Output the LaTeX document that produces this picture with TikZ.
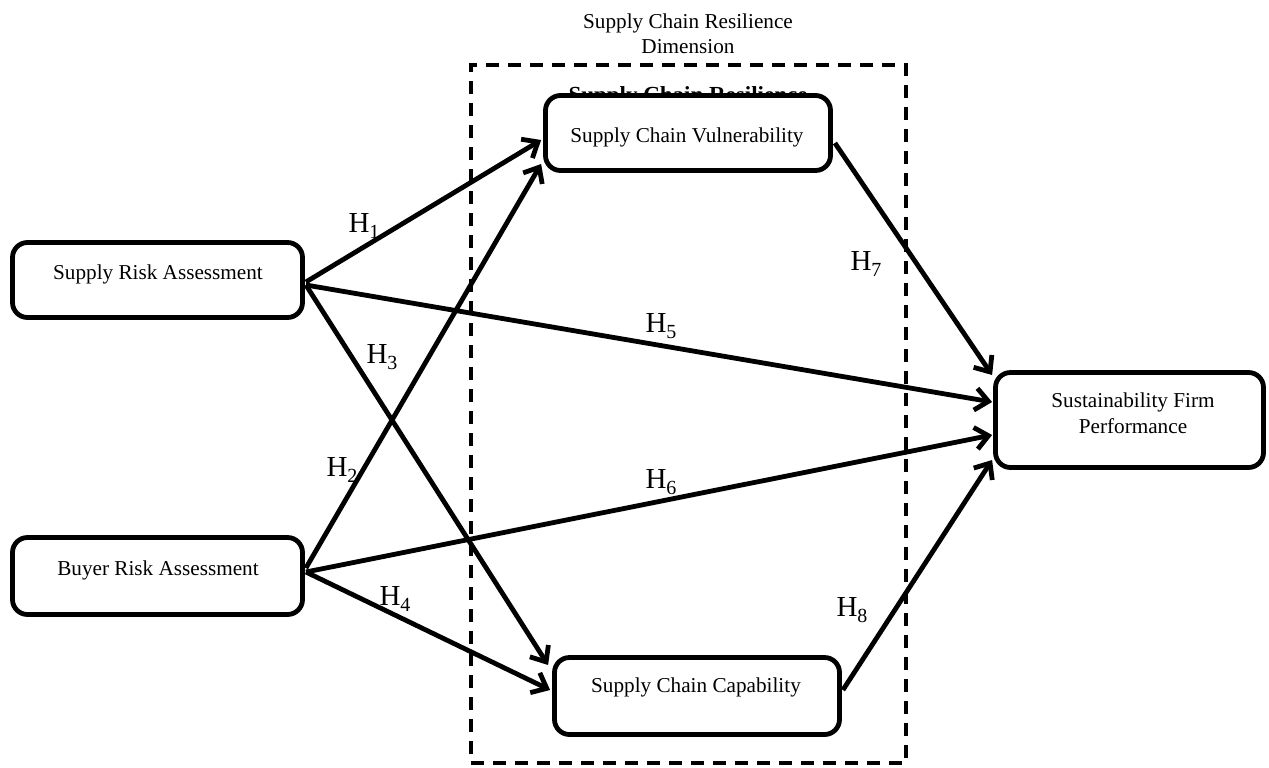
\documentclass[tikz,border=0pt]{standalone}
\usepackage{fontspec}
\setmainfont{Liberation Serif}
\usetikzlibrary{arrows.meta,calc}
\tikzset{
  box/.style={draw=black,line width=2.4pt,rounded corners=7.5pt,fill=white,inner sep=0pt},
  boxtext/.style={anchor=base,inner sep=0pt,font=\fontsize{10.6}{12.5}\selectfont,align=center},
  hyp/.style={line width=2.4pt,-{Straight Barb[length=6.5pt,width=11pt,line width=2.4pt]}},
  hlab/.style={inner sep=0pt,font=\fontsize{14.5}{15}\selectfont},
  dimbox/.style={draw=black,line width=2.2pt,dash pattern=on 6.5pt off 4.5pt,inner sep=0pt}
}
\newcommand{\hsub}[1]{H\raisebox{-0.22em}{\fontsize{10}{10}\selectfont #1}}
\begin{document}
\begin{tikzpicture}[x=0.5pt,y=-0.5pt]
\useasboundingbox (0,0) rectangle (1269,767);
% dimension frame
\node[dimbox,minimum width=217.5pt,minimum height=349pt] (dim) at (688.5,414) {};
\node[boxtext] (title) at (688,53) {Supply Chain Resilience\\Dimension};
\node[anchor=base,inner sep=0pt,font=\bfseries\fontsize{11.5}{12}\selectfont] (scrbold) at (688,102) {Supply Chain Resilience};
% boxes
\node[box,minimum width=145pt,minimum height=37.5pt] (sra) at (157.5,280) {};
\node[box,minimum width=145pt,minimum height=38.5pt] (bra) at (157.5,576) {};
\node[box,minimum width=142.5pt,minimum height=37.5pt] (scv) at (688,133) {};
\node[box,minimum width=142.5pt,minimum height=38.5pt] (scc) at (697,696) {};
\node[box,minimum width=134pt,minimum height=47.5pt] (sfp) at (1129.5,420) {};
\node[boxtext] (sra-t) at (158,279) {Supply Risk Assessment};
\node[boxtext] (bra-t) at (158,575) {Buyer Risk Assessment};
\node[boxtext] (scv-t) at (687,142) {Supply Chain Vulnerability};
\node[boxtext] (scc-t) at (696,692) {Supply Chain Capability};
\node[boxtext,font=\fontsize{10.6}{13}\selectfont] (sfp-t) at (1133,433) {Sustainability Firm\\Performance};
% connectors
\draw[hyp] ($(sra.east)+(1,2)$) -- ($(scv.west)+(-2,7)$);
\draw[hyp] ($(bra.east)+(1,-8)$) -- ($(scv.west)+(-2,31)$);
\draw[hyp] ($(sra.east)+(1,5)$) -- ($(scc.west)+(-4,-31)$);
\draw[hyp] ($(bra.east)+(1,-4)$) -- ($(scc.west)+(-2,-6)$);
\draw[hyp] ($(sra.east)+(1,5)$) -- ($(sfp.west)+(-1,-18)$);
\draw[hyp] ($(bra.east)+(1,-4)$) -- ($(sfp.west)+(-1,15)$);
\draw[hyp] ($(scv.east)+(2,10)$) -- ($(sfp.west)+(-1,-45)$);
\draw[hyp] ($(scc.east)+(1,-6)$) -- ($(sfp.west)+(-1,40)$);
% labels
\node[hlab] (h1) at (364,226) {\hsub{1}};
\node[hlab] (h2) at (342,470) {\hsub{2}};
\node[hlab] (h3) at (382,357) {\hsub{3}};
\node[hlab] (h4) at (395,599) {\hsub{4}};
\node[hlab] (h5) at (661,326) {\hsub{5}};
\node[hlab] (h6) at (661,482) {\hsub{6}};
\node[hlab] (h7) at (866,264) {\hsub{7}};
\node[hlab] (h8) at (852,610) {\hsub{8}};
\end{tikzpicture}
\end{document}
